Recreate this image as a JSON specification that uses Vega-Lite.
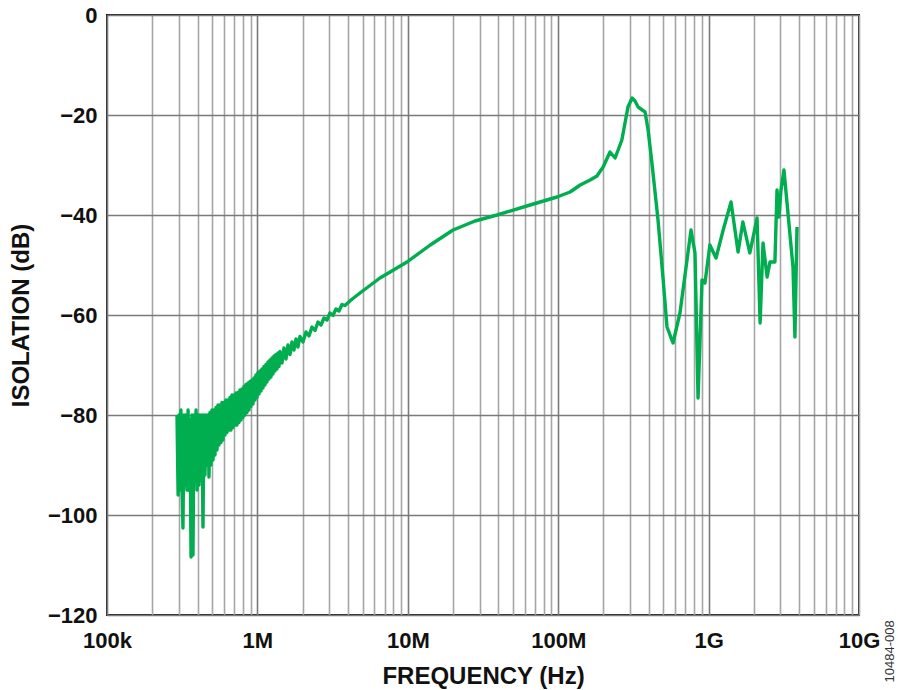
{
  "$schema": "https://vega.github.io/schema/vega-lite/v6.json",
  "width": 752,
  "height": 600,
  "autosize": "none",
  "padding": {"left": 107, "top": 15, "right": 45, "bottom": 75},
  "background": "white",
  "config": {
    "view": {"stroke": "#222", "strokeWidth": 2},
    "font": "Liberation Sans"
  },
  "data": {"values": [
    {"f": 292000, "db": -80}, {"f": 297000, "db": -96}, {"f": 301000, "db": -80}, {"f": 306000, "db": -95},
    {"f": 310000, "db": -79}, {"f": 315000, "db": -94}, {"f": 320000, "db": -102.6}, {"f": 325000, "db": -80},
    {"f": 330000, "db": -94}, {"f": 335000, "db": -80}, {"f": 340000, "db": -95}, {"f": 346000, "db": -79},
    {"f": 351000, "db": -95}, {"f": 356000, "db": -81}, {"f": 362000, "db": -108.4}, {"f": 367000, "db": -80},
    {"f": 373000, "db": -108}, {"f": 379000, "db": -80}, {"f": 385000, "db": -93}, {"f": 391000, "db": -79},
    {"f": 397000, "db": -95}, {"f": 403000, "db": -80}, {"f": 409000, "db": -94}, {"f": 415200, "db": -80},
    {"f": 421600, "db": -93}, {"f": 428100, "db": -80}, {"f": 434700, "db": -102.4}, {"f": 441400, "db": -80},
    {"f": 448200, "db": -92}, {"f": 455100, "db": -80}, {"f": 462100, "db": -90}, {"f": 469200, "db": -80},
    {"f": 476500, "db": -92.4}, {"f": 483800, "db": -79.5}, {"f": 491300, "db": -90}, {"f": 498900, "db": -79},
    {"f": 506600, "db": -89}, {"f": 514400, "db": -79}, {"f": 522300, "db": -88}, {"f": 530400, "db": -78.5},
    {"f": 538600, "db": -87}, {"f": 546900, "db": -78}, {"f": 555300, "db": -86}, {"f": 563900, "db": -78},
    {"f": 572600, "db": -85.5}, {"f": 581400, "db": -77.5}, {"f": 590400, "db": -85}, {"f": 599500, "db": -77.5},
    {"f": 608700, "db": -84}, {"f": 618100, "db": -77}, {"f": 627600, "db": -83.5}, {"f": 637300, "db": -77},
    {"f": 647100, "db": -83}, {"f": 657100, "db": -76.5}, {"f": 667200, "db": -83}, {"f": 677500, "db": -76},
    {"f": 688000, "db": -82.5}, {"f": 698600, "db": -76}, {"f": 709400, "db": -82}, {"f": 720300, "db": -75.6},
    {"f": 731400, "db": -82}, {"f": 742700, "db": -75.5}, {"f": 754200, "db": -81.5}, {"f": 765800, "db": -75},
    {"f": 777600, "db": -81}, {"f": 789600, "db": -74.8}, {"f": 801800, "db": -80.5}, {"f": 814200, "db": -74.3},
    {"f": 826700, "db": -80}, {"f": 839500, "db": -73.9}, {"f": 852400, "db": -79.5}, {"f": 865600, "db": -73.6},
    {"f": 878900, "db": -79}, {"f": 892500, "db": -73.3}, {"f": 906300, "db": -78.3}, {"f": 920300, "db": -73},
    {"f": 934500, "db": -77.8}, {"f": 948900, "db": -72.6}, {"f": 963500, "db": -77}, {"f": 978400, "db": -72},
    {"f": 993500, "db": -76.5}, {"f": 1008800, "db": -71.5}, {"f": 1024400, "db": -75.8}, {"f": 1040200, "db": -71.2},
    {"f": 1056200, "db": -75.2}, {"f": 1072500, "db": -70.8}, {"f": 1089100, "db": -74.6}, {"f": 1105900, "db": -70.3},
    {"f": 1122900, "db": -74}, {"f": 1140300, "db": -69.9}, {"f": 1157900, "db": -73.4}, {"f": 1175800, "db": -69.4},
    {"f": 1193900, "db": -72.8}, {"f": 1212300, "db": -69}, {"f": 1231000, "db": -72.4}, {"f": 1250000, "db": -68.6},
    {"f": 1269300, "db": -71.8}, {"f": 1288900, "db": -68.2}, {"f": 1308800, "db": -71.2}, {"f": 1329000, "db": -67.9},
    {"f": 1349500, "db": -70.8}, {"f": 1370300, "db": -67.6}, {"f": 1391400, "db": -70.3}, {"f": 1412900, "db": -67.3},
    {"f": 1456900, "db": -69.6}, {"f": 1502200, "db": -66.6}, {"f": 1548900, "db": -68.8}, {"f": 1597100, "db": -66},
    {"f": 1646700, "db": -67.9}, {"f": 1697900, "db": -65.4}, {"f": 1750700, "db": -67}, {"f": 1805200, "db": -64.8},
    {"f": 1861300, "db": -66.4}, {"f": 1919200, "db": -64.3}, {"f": 2009400, "db": -65.4}, {"f": 2103900, "db": -63.4},
    {"f": 2202800, "db": -64.2}, {"f": 2306300, "db": -62.4}, {"f": 2414700, "db": -63.1}, {"f": 2528200, "db": -61.4},
    {"f": 2647000, "db": -62}, {"f": 2771400, "db": -60.6}, {"f": 2901700, "db": -61}, {"f": 3038100, "db": -59.6},
    {"f": 3180900, "db": -60.1}, {"f": 3330400, "db": -58.8}, {"f": 3486900, "db": -59.2}, {"f": 3650800, "db": -57.9},
    {"f": 3822400, "db": -58.1}, {"f": 4190100, "db": -57}, {"f": 4809100, "db": -55.6},
    {"f": 6530000, "db": -52.6}, {"f": 9880000, "db": -49.4},
    {"f": 14100000, "db": -46}, {"f": 20000000, "db": -43}, {"f": 28000000, "db": -41.2}, {"f": 39200000, "db": -40},
    {"f": 65000000, "db": -38}, {"f": 98200000, "db": -36.4}, {"f": 120000000, "db": -35.4}, {"f": 140000000, "db": -34},
    {"f": 163000000, "db": -33}, {"f": 181000000, "db": -32.2}, {"f": 199000000, "db": -30.4}, {"f": 221000000, "db": -27.4},
    {"f": 239000000, "db": -28.6}, {"f": 265000000, "db": -25}, {"f": 291000000, "db": -18.4}, {"f": 310000000, "db": -16.6},
    {"f": 324000000, "db": -17.2}, {"f": 340000000, "db": -18.4}, {"f": 378000000, "db": -19.4}, {"f": 396000000, "db": -23},
    {"f": 420000000, "db": -29.6}, {"f": 461000000, "db": -41}, {"f": 497000000, "db": -52.4}, {"f": 529000000, "db": -62.4},
    {"f": 580000000, "db": -65.6}, {"f": 645000000, "db": -59.6}, {"f": 764000000, "db": -43}, {"f": 812000000, "db": -47.6},
    {"f": 851000000, "db": -76.6}, {"f": 904000000, "db": -53}, {"f": 946000000, "db": -53.6}, {"f": 1020000000, "db": -46},
    {"f": 1120000000, "db": -48.6}, {"f": 1250000000, "db": -43}, {"f": 1410000000, "db": -37.4}, {"f": 1570000000, "db": -47.4},
    {"f": 1690000000, "db": -41.4}, {"f": 1880000000, "db": -47.6}, {"f": 2100000000, "db": -40.6}, {"f": 2200000000, "db": -61.6},
    {"f": 2300000000, "db": -45.6}, {"f": 2450000000, "db": -52.4}, {"f": 2560000000, "db": -49.4}, {"f": 2760000000, "db": -49.4},
    {"f": 2850000000, "db": -35}, {"f": 2940000000, "db": -40.4}, {"f": 3030000000, "db": -35}, {"f": 3170000000, "db": -31},
    {"f": 3370000000, "db": -39.6}, {"f": 3640000000, "db": -50.4}, {"f": 3750000000, "db": -64.4}, {"f": 3870000000, "db": -42.4}
  ]},
  "layer": [
    {
      "mark": {"type": "line", "color": "#00ad4f", "strokeWidth": 3.4, "strokeJoin": "round", "clip": true},
      "encoding": {
        "x": {
          "field": "f", "type": "quantitative",
          "scale": {"type": "log", "domain": [100000, 10000000000], "nice": false},
          "axis": {
            "title": "FREQUENCY (Hz)",
            "titleFontSize": 24, "titleFontWeight": "bold", "titleColor": "#111", "titlePadding": 13,
            "values": [100000,200000,300000,400000,500000,600000,700000,800000,900000,
                       1000000,2000000,3000000,4000000,5000000,6000000,7000000,8000000,9000000,
                       10000000,20000000,30000000,40000000,50000000,60000000,70000000,80000000,90000000,
                       100000000,200000000,300000000,400000000,500000000,600000000,700000000,800000000,900000000,
                       1000000000,2000000000,3000000000,4000000000,5000000000,6000000000,7000000000,8000000000,9000000000,
                       10000000000],
            "labelExpr": "datum.value==100000?'100k':datum.value==1000000?'1M':datum.value==10000000?'10M':datum.value==100000000?'100M':datum.value==1000000000?'1G':datum.value==10000000000?'10G':''",
            "labelFontSize": 22, "labelFontWeight": "bold", "labelColor": "#111", "labelPadding": 15,
            "labelOverlap": false, "labelFlush": false,
            "ticks": false, "domain": false,
            "grid": true,
            "gridColor": {"condition": {"test": "datum.value==100000||datum.value==1000000||datum.value==10000000||datum.value==100000000||datum.value==1000000000", "value": "#7a7a7a"}, "value": "#a6a6a6"},
            "gridWidth": 1.6, "gridOpacity": 1
          }
        },
        "y": {
          "field": "db", "type": "quantitative",
          "scale": {"domain": [-120, 0], "nice": false},
          "axis": {
            "title": "ISOLATION (dB)",
            "titleFontSize": 24, "titleFontWeight": "bold", "titleColor": "#111", "titlePadding": 14,
            "values": [-120, -100, -80, -60, -40, -20, 0],
            "labelFontSize": 22, "labelFontWeight": "bold", "labelColor": "#111", "labelPadding": 10,
            "labelFlush": false,
            "ticks": false, "domain": false,
            "grid": true, "gridColor": "#7a7a7a", "gridWidth": 1.6, "gridOpacity": 1
          }
        }
      }
    },
    {
      "mark": {"type": "line", "strokeOpacity": 0},
      "encoding": {
        "x": {"field": "f", "type": "quantitative"},
        "y": {
          "field": "db", "type": "quantitative",
          "axis": {
            "orient": "right", "title": "10484-008",
            "titleFontSize": 13, "titleFontWeight": "normal", "titleColor": "#333",
            "titleAngle": 270, "titleAlign": "left", "titleBaseline": "middle",
            "titleY": 667, "titlePadding": 30,
            "labels": false, "ticks": false, "domain": false, "grid": false
          }
        }
      }
    }
  ],
  "resolve": {"axis": {"y": "independent"}}
}
